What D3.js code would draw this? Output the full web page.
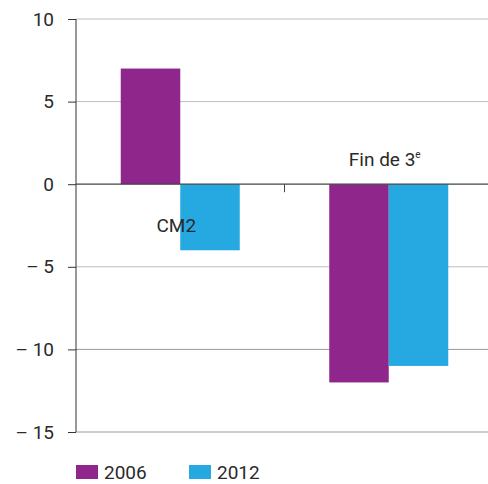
<!DOCTYPE html>
<html><head><meta charset="utf-8">
<script src="https://cdn.jsdelivr.net/npm/d3@7"></script>
<style>body{margin:0;background:#fff}svg{display:block;font-family:Roboto,"DejaVu Sans",sans-serif}</style>
</head><body>
<svg id="c" width="488" height="484"></svg>
<script>
const categories = ["CM2", "Fin de 3e"];
const series = ["2006", "2012"];
const values2006 = [7, -12];
const values2012 = [-4, -11];
const yTicks = [10, 5, 0, -5, -10, -15];
const colors = ["#8E268B", "#25A9E0"];

const svg = d3.select("#c");
const x0 = d3.scaleBand().domain(categories).range([76, 493]);
const x1 = d3.scaleBand().domain(series)
  .range([x0.bandwidth()/2 - 59.5, x0.bandwidth()/2 + 59.5]);
const y = d3.scaleLinear().domain([-15, 10]).range([432, 19]);

// gridlines
svg.append("g").selectAll("line").data(yTicks.filter(d => d !== 0)).join("line")
  .attr("x1", 76).attr("x2", 493)
  .attr("y1", d => y(d)).attr("y2", d => y(d))
  .attr("stroke", d => d === -10 ? "#999" : "#bdbdbd").attr("stroke-width", d => d === -15 ? 1.5 : 1);

// y axis
const yAxis = d3.axisLeft(y).tickValues(yTicks).tickSize(8).tickPadding(14)
  .tickFormat(d => d < 0 ? "\u2013 " + Math.abs(d) : String(d));
const ga = svg.append("g").attr("transform", "translate(76,0)").call(yAxis);
ga.select(".domain").attr("stroke", "#333").attr("d", `M0,${y(10)}V${y(-15)}`);
ga.selectAll(".tick line").attr("stroke", "#333");
ga.selectAll(".tick text").attr("font-size", 19).attr("fill", "#2a2a2a").attr("font-family", "Roboto");

// bars
const data = categories.map((c, i) => ({cat: c, vals: [values2006[i], values2012[i]]}));
const g = svg.append("g").selectAll("g").data(data).join("g")
  .attr("transform", d => `translate(${x0(d.cat)},0)`);
g.selectAll("rect").data(d => d.vals.map((v, j) => ({s: series[j], v, j}))).join("rect")
  .attr("x", d => x1(d.s)).attr("width", x1.bandwidth())
  .attr("y", d => y(Math.max(0, d.v))).attr("height", d => Math.abs(y(d.v) - y(0)))
  .attr("fill", d => colors[d.j]);

// zero line
svg.append("line").attr("x1", 76).attr("x2", 493).attr("y1", y(0)).attr("y2", y(0))
  .attr("stroke", "#444").attr("stroke-width", 1.2);
// category separator tick
svg.append("line").attr("x1", x0("Fin de 3e")).attr("x2", x0("Fin de 3e"))
  .attr("y1", y(0)).attr("y2", y(0) + 8).attr("stroke", "#444");

// category labels
svg.append("text").attr("x", x0("CM2") + x0.bandwidth()/2 - 4).attr("y", 232)
  .attr("text-anchor", "middle").attr("font-size", 19).attr("fill", "#2a2a2a").text("CM2");
const t = svg.append("text").attr("x", x0("Fin de 3e") + x0.bandwidth()/2 - 4).attr("y", 166)
  .attr("text-anchor", "middle").attr("font-size", 19).attr("fill", "#2a2a2a");
t.append("tspan").text("Fin de 3");
t.append("tspan").attr("font-size", 10).attr("dy", -8).text("e");

// legend
const lg = svg.append("g").selectAll("g").data(series).join("g")
  .attr("transform", (d, i) => `translate(${76 + i * 113},465)`);
lg.append("rect").attr("width", 22).attr("height", 14).attr("fill", (d, i) => colors[i]);
lg.append("text").attr("x", 28).attr("y", 14).attr("font-size", 19).attr("fill", "#2a2a2a").text(d => d);
</script>
</body></html>
